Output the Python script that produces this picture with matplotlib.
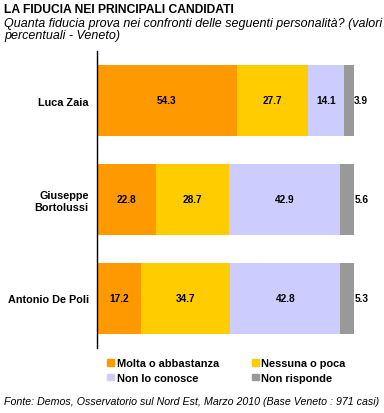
import numpy as np
import matplotlib.pyplot as plt
from matplotlib.patches import Patch

plt.rcParams['font.family'] = ['Liberation Sans', 'DejaVu Sans']

candidates = ["Luca Zaia", "Giuseppe\nBortolussi", "Antonio De Poli"]
molta = [54.3, 22.8, 17.2]
nessuna = [27.7, 28.7, 34.7]
non_conosce = [14.1, 42.9, 42.8]
non_risponde = [3.9, 5.6, 5.3]

series_names = ["Molta o abbastanza", "Nessuna o poca", "Non lo conosce", "Non risponde"]
colors = ["#FF9900", "#FFCC00", "#CCCCFF", "#999999"]

fig = plt.figure(figsize=(3.84, 4.14), dpi=100)
ax = fig.add_axes([97 / 384, 1 - 349 / 414, 257 / 384, 297 / 414])

y = np.arange(len(candidates))
left = np.zeros(len(candidates))
for i, vals in enumerate([molta, nessuna, non_conosce, non_risponde]):
    vals = np.array(vals)
    ax.barh(y, vals, left=left, height=0.72, color=colors[i], label=series_names[i])
    for k in range(len(y)):
        if i < 3:
            ax.text(left[k] + vals[k] / 2, y[k], f"{vals[k]:.1f}", ha="center", va="center",
                    fontsize=7.3, fontweight="bold")
        else:
            ax.text(left[k] + vals[k] + 0.1, y[k], f"{vals[k]:.1f}", ha="left", va="center",
                    fontsize=7.3, fontweight="bold")
    left += vals

ax.set_xlim(0, 100)
ax.set_ylim(2.5, -0.5)
ax.set_yticks(y)
ax.set_yticklabels(candidates, fontsize=7.8, fontweight="bold", ha="right")
ax.tick_params(axis="y", length=0, pad=6)
ax.set_xticks([])
for s in ["top", "right", "bottom"]:
    ax.spines[s].set_visible(False)
ax.spines["left"].set_linewidth(1.0)

fig.text(4 / 384, 1 - 10 / 414, "LA FIDUCIA NEI PRINCIPALI CANDIDATI", fontsize=8.7,
         fontweight="bold", va="center", ha="left")
fig.text(4 / 384, 1 - 30 / 414,
         "Quanta fiducia prova nei confronti delle seguenti personalità? (valori\npercentuali - Veneto)",
         fontsize=9, style="italic", va="center", ha="left", linespacing=1.0)

handles = [Patch(color=c) for c in colors]
order = [0, 2, 1, 3]
fig.legend([handles[i] for i in order], [series_names[i] for i in order], ncol=2,
           loc="upper left", bbox_to_anchor=(102 / 384, 1 - 354 / 414), frameon=False,
           handlelength=0.6, handleheight=0.6, handletextpad=0.25, columnspacing=3.0,
           labelspacing=0.4, prop={"size": 7.9, "weight": "bold"}, borderpad=0)

fig.text(4 / 384, 1 - 402 / 414,
         "Fonte: Demos, Osservatorio sul Nord Est, Marzo 2010 (Base Veneto : 971 casi)",
         fontsize=7.7, style="italic", va="center", ha="left")

fig.savefig("out.png", dpi=100)
